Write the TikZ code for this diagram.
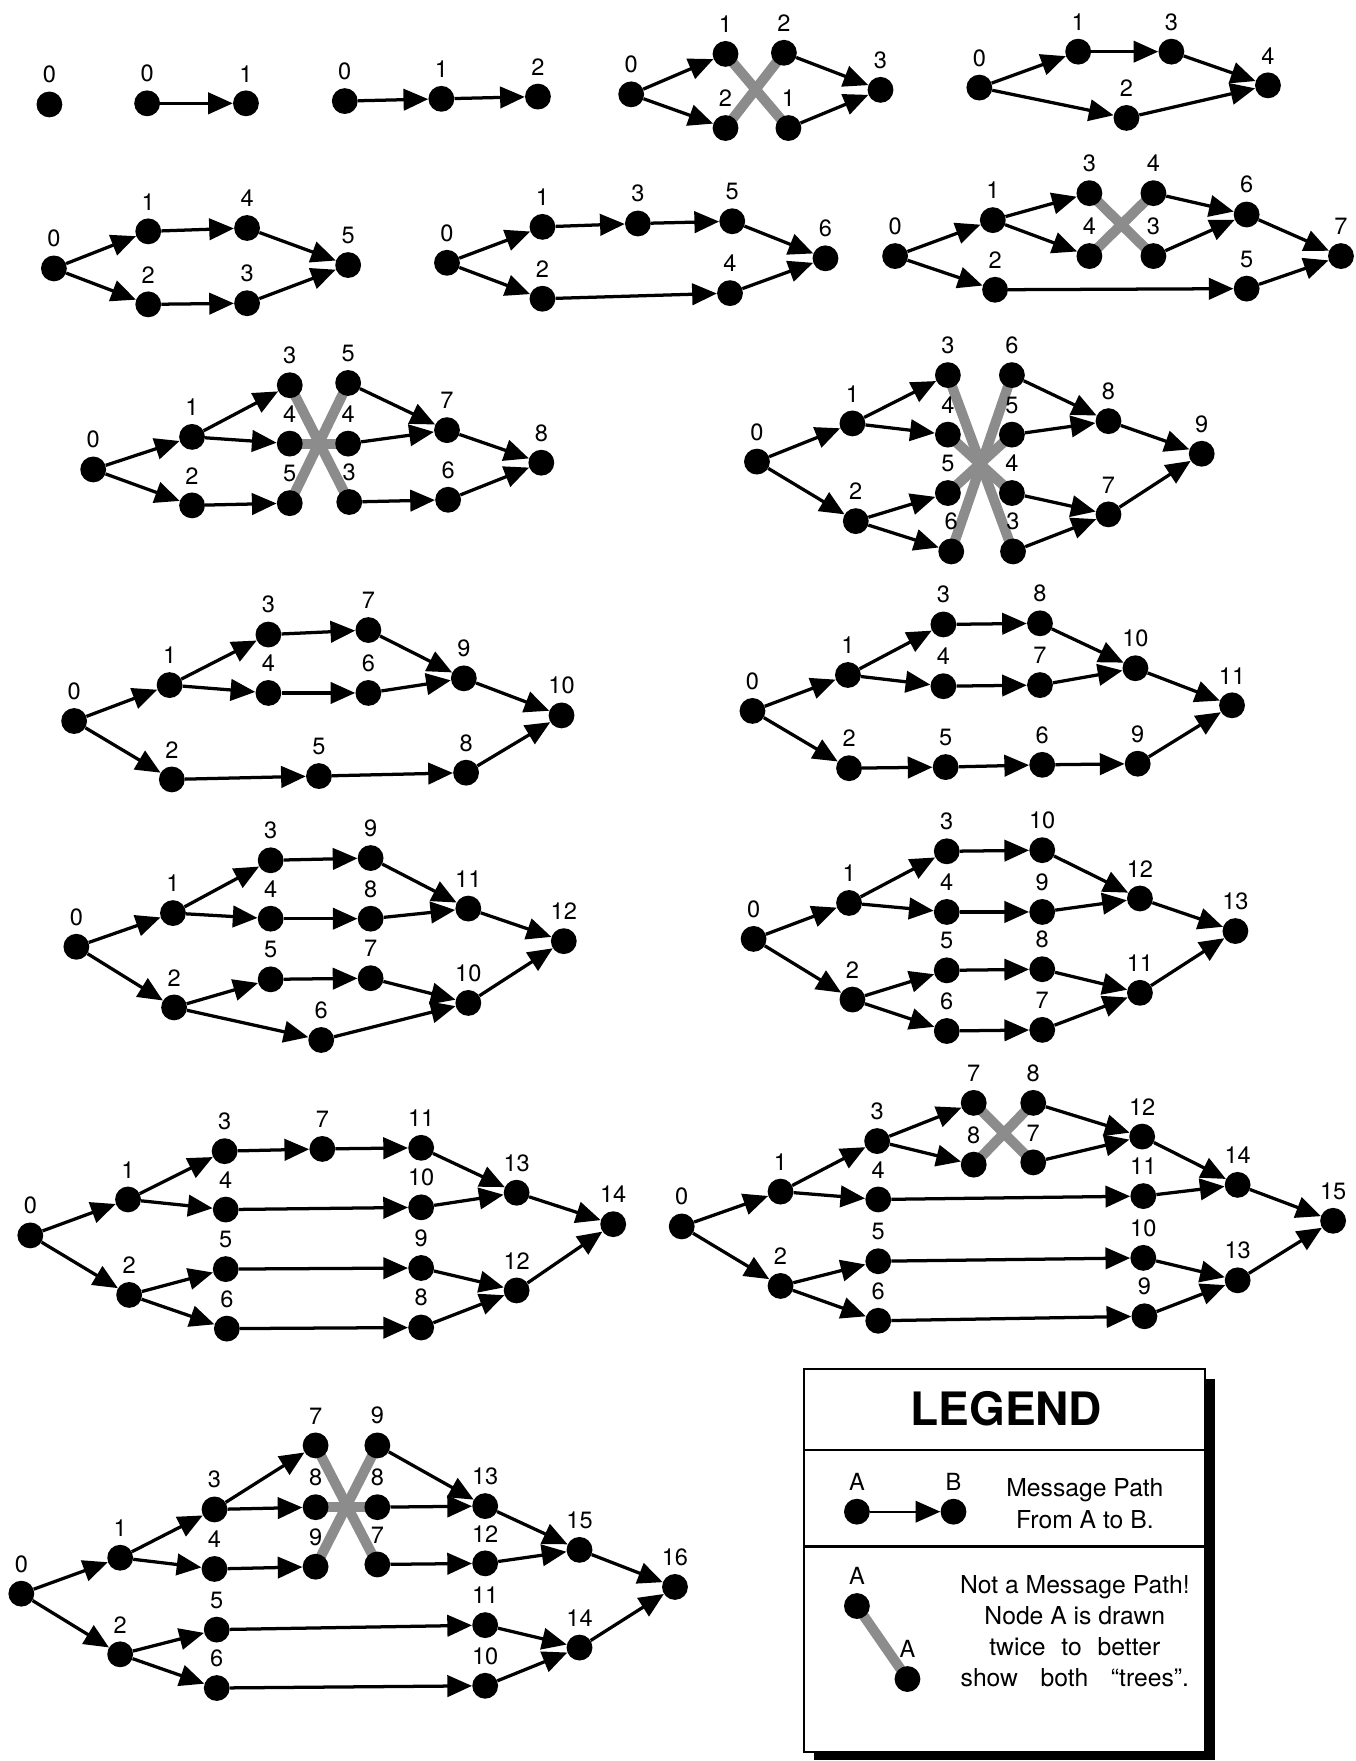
\documentclass[tikz,border=0pt]{standalone}
\usepackage{fontspec}
\setmainfont{TeX Gyre Heros}
\usetikzlibrary{arrows.meta,backgrounds}

\begin{document}
\begin{tikzpicture}[x=1pt,y=-1pt,
    dot/.style={circle, fill=black, inner sep=0pt, minimum size=23pt},
    every label/.style={font=\fontsize{21}{25}\selectfont, inner sep=0pt},
    label distance=7pt,
    msg/.style={line width=2.9pt, -{Triangle[length=22pt,width=19pt]}},
    hatch/.style={line width=9pt, draw=black!45}]
    \useasboundingbox (0,0) rectangle (1207,1568);

    % Graphes 1 a 3 noeuds
    \node[dot, label=0] (g1-0) at (44,93) {};
    \node[dot, label=0] (g2-0) at (131,92) {};
    \node[dot, label=1] (g2-1) at (219,92) {};
    \draw[msg] (g2-0) -- (g2-1);
    \node[dot, label=0] (g3-0) at (307,90) {};
    \node[dot, label=1] (g3-1) at (393,88) {};
    \node[dot, label=2] (g3-2) at (479,86) {};
    \draw[msg] (g3-0) -- (g3-1);
    \draw[msg] (g3-1) -- (g3-2);

    % Graphe 4 noeuds
    \foreach \n/\x/\y/\t in {0/562/84/0, 1/646/48/1, 2/698/47/2, 2b/646/114/2, 1b/702/114/1, 3/784/80/3}
        \node[dot, label=\t] (g4-\n) at (\x,\y) {};
    \foreach \a/\b in {0/1, 0/2b, 2/3, 1b/3}
        \draw[msg] (g4-\a) -- (g4-\b);
    \begin{scope}[on background layer]
        \foreach \a/\b in {1/1b, 2/2b}
            \draw[hatch] (g4-\a.center) -- (g4-\b.center);
    \end{scope}

    % Graphe 5 noeuds
    \foreach \n/\x/\y in {0/872/78, 1/960/46, 3/1043/46, 2/1003/105, 4/1129/76}
        \node[dot, label=\n] (g5-\n) at (\x,\y) {};
    \foreach \a/\b in {0/1, 1/3, 3/4, 0/2, 2/4}
        \draw[msg] (g5-\a) -- (g5-\b);

    % Graphe 6 noeuds
    \foreach \n/\x/\y in {0/48/239, 1/132/206, 4/220/203, 2/132/271, 3/220/270, 5/310/236}
        \node[dot, label=\n] (g6-\n) at (\x,\y) {};
    \foreach \a/\b in {0/1, 1/4, 4/5, 0/2, 2/3, 3/5}
        \draw[msg] (g6-\a) -- (g6-\b);

    % Graphe 7 noeuds
    \foreach \n/\x/\y in {0/398/234, 1/483/202, 3/568/199, 5/652/197, 6/735/230, 2/483/266, 4/650/261}
        \node[dot, label=\n] (g7-\n) at (\x,\y) {};
    \foreach \a/\b in {0/1, 1/3, 3/5, 5/6, 0/2, 2/4, 4/6}
        \draw[msg] (g7-\a) -- (g7-\b);

    % Graphe 8 noeuds
    \foreach \n/\x/\y/\t in {0/797/228/0, 1/884/196/1, 3/970/172/3, 4b/1027/172/4, 4/970/228/4,
            3b/1027/228/3, 6/1110/191/6, 7/1194/228/7, 2/886/258/2, 5/1110/257/5}
        \node[dot, label=\t] (g8-\n) at (\x,\y) {};
    \foreach \a/\b in {0/1, 1/3, 1/4, 4b/6, 3b/6, 6/7, 0/2, 2/5, 5/7}
        \draw[msg] (g8-\a) -- (g8-\b);
    \begin{scope}[on background layer]
        \foreach \a/\b in {3/3b, 4/4b}
            \draw[hatch] (g8-\a.center) -- (g8-\b.center);
    \end{scope}

    % Graphe 9 noeuds
    \foreach \n/\x/\y/\t in {0/83/418/0, 1/171/389/1, 2/171/450/2, 3/258/343/3, 4/258/395/4, 5/258/448/5,
            5b/310/341/5, 4b/310/395/4, 3b/311/447/3, 7/398/383/7, 6/399/445/6, 8/482/412/8}
        \node[dot, label=\t] (g9-\n) at (\x,\y) {};
    \foreach \a/\b in {0/1, 1/3, 1/4, 0/2, 2/5, 5b/7, 4b/7, 3b/6, 7/8, 6/8}
        \draw[msg] (g9-\a) -- (g9-\b);
    \begin{scope}[on background layer]
        \foreach \a/\b in {3/3b, 5/5b, 4/4b}
            \draw[hatch] (g9-\a.center) -- (g9-\b.center);
    \end{scope}

    % Graphe 10 noeuds
    \foreach \n/\x/\y/\t in {0/674/411/0, 1/759/377/1, 2/762/464/2, 3/844/334/3, 4/844/387/4, 5/844/439/5,
            6/847/491/6, 6b/901/334/6, 5b/901/387/5, 4b/901/439/4, 3b/902/491/3, 8/987/375/8, 7/987/458/7,
            9/1070/404/9}
        \node[dot, label=\t] (g10-\n) at (\x,\y) {};
    \foreach \a/\b in {0/1, 1/3, 1/4, 0/2, 2/5, 2/6, 6b/8, 5b/8, 4b/7, 3b/7, 8/9, 7/9}
        \draw[msg] (g10-\a) -- (g10-\b);
    \begin{scope}[on background layer]
        \foreach \a/\b in {3/3b, 6/6b, 4/4b, 5/5b}
            \draw[hatch] (g10-\a.center) -- (g10-\b.center);
    \end{scope}

    % Graphe 11 noeuds
    \foreach \n/\x/\y in {0/66/642, 1/151/610, 3/239/565, 7/328/561, 4/239/617, 6/328/617, 9/413/604,
            10/500/637, 2/153/694, 5/284/691, 8/415/688}
        \node[dot, label=\n] (g11-\n) at (\x,\y) {};
    \foreach \a/\b in {0/1, 1/3, 3/7, 7/9, 1/4, 4/6, 6/9, 9/10, 0/2, 2/5, 5/8, 8/10}
        \draw[msg] (g11-\a) -- (g11-\b);

    % Graphe 12 noeuds
    \foreach \n/\x/\y in {0/670/633, 1/755/601, 3/840/556, 8/926/555, 4/840/611, 7/926/610, 10/1011/595,
            11/1097/628, 2/756/684, 5/842/683, 6/928/681, 9/1013/680}
        \node[dot, label=\n] (g12-\n) at (\x,\y) {};
    \foreach \a/\b in {0/1, 1/3, 3/8, 8/10, 1/4, 4/7, 7/10, 10/11, 0/2, 2/5, 5/6, 6/9, 9/11}
        \draw[msg] (g12-\a) -- (g12-\b);

    % Graphe 13 noeuds
    \foreach \n/\x/\y in {0/68/843, 1/154/813, 3/241/766, 9/330/764, 4/241/818, 8/330/818, 11/417/809,
            12/502/838, 2/155/897, 5/241/872, 7/330/871, 10/417/893, 6/286/926}
        \node[dot, label=\n] (g13-\n) at (\x,\y) {};
    \foreach \a/\b in {0/1, 1/3, 3/9, 9/11, 1/4, 4/8, 8/11, 11/12, 0/2, 2/5, 5/7, 7/10, 2/6, 6/10, 10/12}
        \draw[msg] (g13-\a) -- (g13-\b);

    % Graphe 14 noeuds
    \foreach \n/\x/\y in {0/671/836, 1/756/804, 3/843/758, 10/928/757, 4/843/812, 9/928/812, 12/1015/800,
            13/1100/829, 2/759/890, 5/843/864, 8/928/863, 11/1015/884, 6/843/918, 7/928/917}
        \node[dot, label=\n] (g14-\n) at (\x,\y) {};
    \foreach \a/\b in {0/1, 1/3, 3/10, 10/12, 1/4, 4/9, 9/12, 12/13, 0/2, 2/5, 5/8, 8/11, 2/6, 6/7, 7/11, 11/13}
        \draw[msg] (g14-\a) -- (g14-\b);

    % Graphe 15 noeuds
    \foreach \n/\x/\y in {0/27/1100, 1/114/1068, 3/200/1025, 7/287/1023, 11/375/1022, 4/201/1077,
            10/375/1075, 13/460/1062, 14/546/1090, 2/115/1153, 5/201/1130, 9/375/1129, 12/460/1149,
            6/202/1183, 8/375/1182}
        \node[dot, label=\n] (g15-\n) at (\x,\y) {};
    \foreach \a/\b in {0/1, 1/3, 3/7, 7/11, 11/13, 1/4, 4/10, 10/13, 13/14, 0/2, 2/5, 5/9, 9/12, 2/6, 6/8, 8/12, 12/14}
        \draw[msg] (g15-\a) -- (g15-\b);

    % Graphe 16 noeuds
    \foreach \n/\x/\y/\t in {0/607/1092/0, 1/695/1061/1, 3/781/1016/3, 7/867/982/7, 8/867/1037/8,
            8b/920/982/8, 7b/920/1035/7, 12/1017/1012/12, 4/782/1068/4, 11/1018/1065/11, 14/1102/1055/14,
            15/1187/1087/15, 2/695/1145/2, 5/782/1123/5, 10/1018/1120/10, 13/1102/1140/13, 6/782/1176/6,
            9/1019/1172/9}
        \node[dot, label=\t] (g16-\n) at (\x,\y) {};
    \foreach \a/\b in {0/1, 1/3, 3/7, 3/8, 8b/12, 7b/12, 12/14, 1/4, 4/11, 11/14, 14/15, 0/2, 2/5, 5/10,
            10/13, 2/6, 6/9, 9/13, 13/15}
        \draw[msg] (g16-\a) -- (g16-\b);
    \begin{scope}[on background layer]
        \foreach \a/\b in {7/7b, 8/8b}
            \draw[hatch] (g16-\a.center) -- (g16-\b.center);
    \end{scope}

    % Graphe 17 noeuds
    \foreach \n/\x/\y/\t in {0/19/1419/0, 1/107/1387/1, 3/191/1344/3, 7/281/1287/7, 8/281/1342/8,
            9/281/1395/9, 9b/336/1287/9, 8b/336/1342/8, 7b/336/1393/7, 13/432/1341/13, 12/432/1392/12,
            15/516/1380/15, 16/601/1413/16, 4/191/1397/4, 2/107/1473/2, 5/193/1451/5, 11/432/1447/11,
            14/516/1467/14, 6/193/1503/6, 10/432/1501/10}
        \node[dot, label=\t] (g17-\n) at (\x,\y) {};
    \foreach \a/\b in {0/1, 1/3, 3/7, 3/8, 1/4, 4/9, 9b/13, 8b/13, 7b/12, 13/15, 12/15, 15/16, 0/2, 2/5,
            5/11, 2/6, 6/10, 11/14, 10/14, 14/16}
        \draw[msg] (g17-\a) -- (g17-\b);
    \begin{scope}[on background layer]
        \foreach \a/\b in {7/7b, 8/8b, 9/9b}
            \draw[hatch] (g17-\a.center) -- (g17-\b.center);
    \end{scope}

    % Legende
    \begin{scope}[on background layer]
        \fill (725,1228) rectangle (1082,1567);
        \draw[line width=2pt, fill=white] (716,1219) rectangle (1073,1560);
        \draw[line width=2pt] (716,1291) -- (1073,1291);
        \draw[line width=2pt] (716,1377) -- (1073,1377);
    \end{scope}
    \node[font=\fontsize{41}{48}\selectfont\bfseries] (legtitle) at (896,1254) {LEGEND};
    \node[dot, label=A] (leg-a) at (763,1346) {};
    \node[dot, label=B] (leg-b) at (849,1346) {};
    \draw[msg, line width=2pt] (leg-a) -- (leg-b);
    \node[align=center, font=\fontsize{22}{28}\selectfont] (legtxt1) at (966,1339)
        {Message Path\\From A to B.};
    \node[dot, label=A] (leg-c) at (763,1430) {};
    \node[dot, label=A] (leg-d) at (808,1495) {};
    \begin{scope}[on background layer]
        \draw[hatch] (leg-c.center) -- (leg-d.center);
    \end{scope}
    \node[align=center, font=\fontsize{22}{27.7}\selectfont] (legtxt2) at (957,1452.5)
        {Not a Message Path!\\Node A is drawn\\twice\hspace{8pt} to\hspace{8pt} better\\show\hspace{14pt} both\hspace{14pt} “trees”.};
\end{tikzpicture}
\end{document}
